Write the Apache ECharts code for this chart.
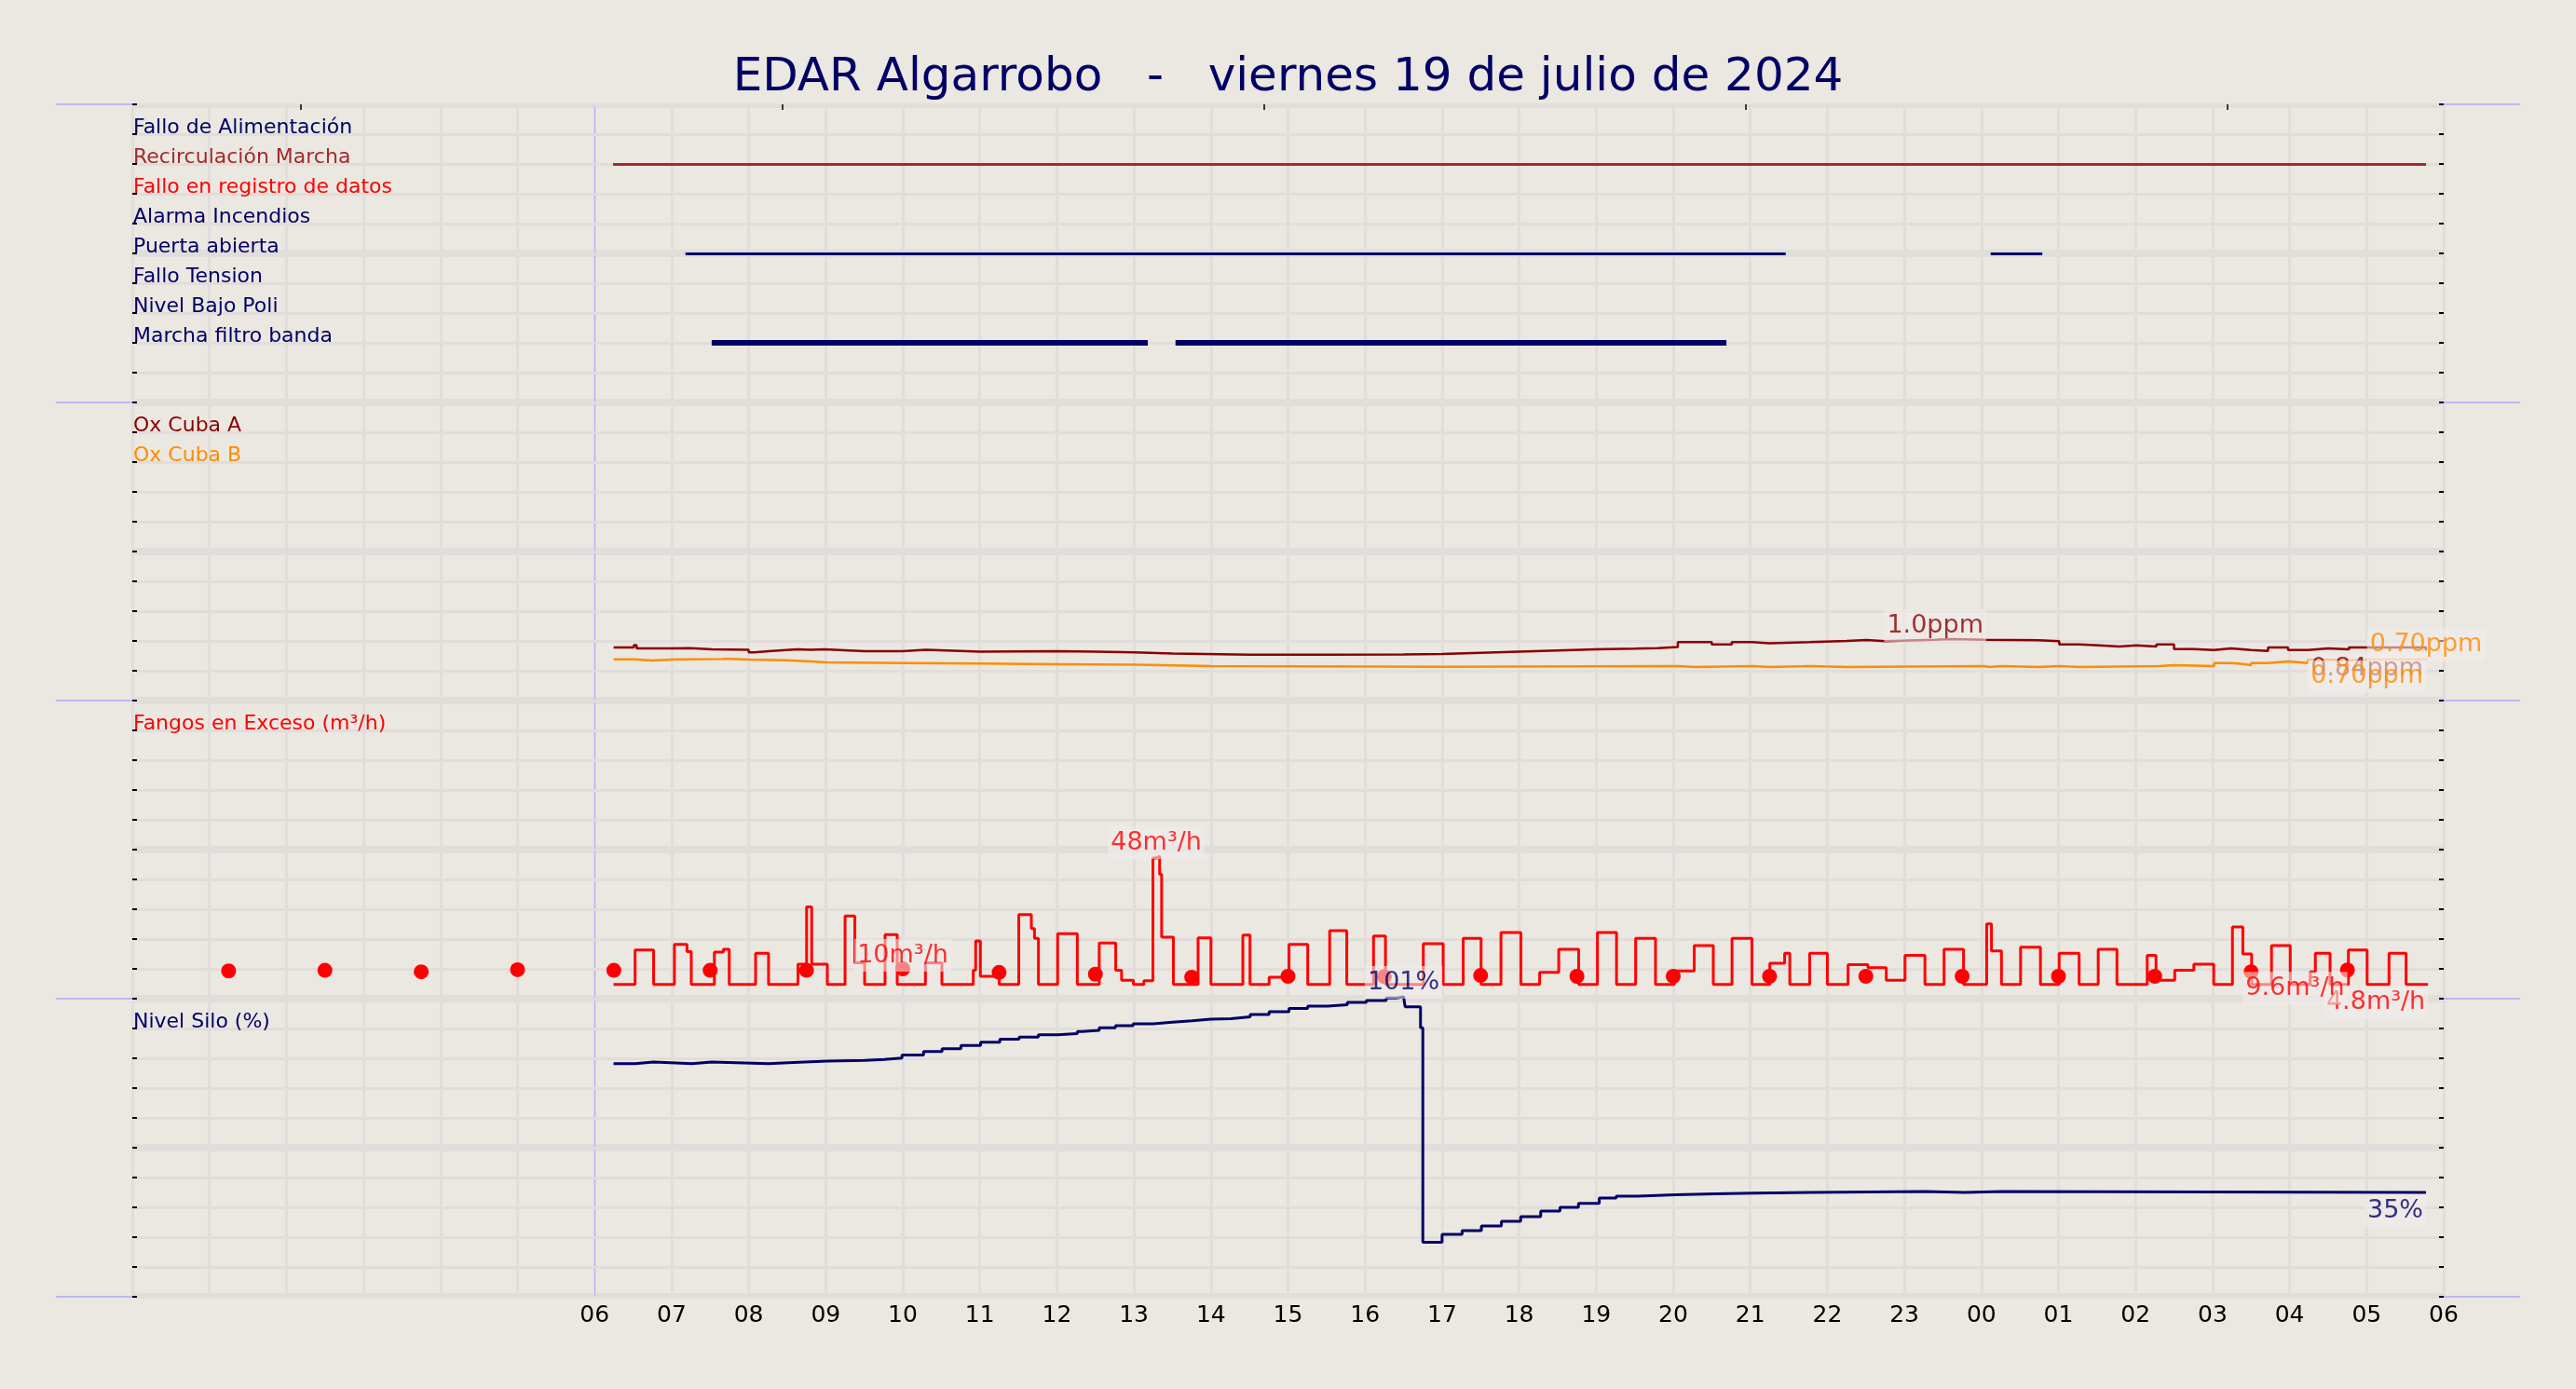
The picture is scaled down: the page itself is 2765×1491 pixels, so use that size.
<!DOCTYPE html>
<html><head><meta charset="utf-8">
<script src="https://cdn.jsdelivr.net/npm/echarts@6/dist/echarts.min.js"></script>
<style>html,body{margin:0;padding:0;background:#ebe7e1;} #c{width:2765px;height:1491px;}</style>
</head><body><div id="c"></div>
<script>
// ---------------- DATA ----------------
const hourLabels = ['','','','','','','06','07','08','09','10','11','12','13','14','15','16','17','18','19','20','21','22','23','00','01','02','03','04','05','06'];
const topTickHours = [2.19, 8.44, 14.69, 20.94, 27.19];

const eventNames  = ['Fallo de Alimentación','Recirculación Marcha','Fallo en registro de datos','Alarma Incendios','Puerta abierta','Fallo Tension','Nivel Bajo Poli','Marcha filtro banda'];
const eventRows   = [9, 8, 7, 6, 5, 4, 3, 2];
const eventColors = ['#000066','#a52a2a','#ff0000','#000066','#000066','#000066','#000066','#000066'];

const recircSegs = [[6.24, 29.77]];
const puertaSegs = [[7.18, 21.46], [24.12, 24.79]];
const filtroSegs = [[7.52, 13.18], [13.54, 20.69]];

const oxNames = ['Ox Cuba A', 'Ox Cuba B'];
const oxRows  = [4.5, 4.0];
const oxA = [[6.247,0.89],[6.51,0.93],[6.545,0.875],[7.0,0.88],[7.24,0.86],[7.52,0.85],[8.0,0.81],[8.07,0.83],[8.26,0.86],[8.63,0.85],[8.80,0.86],[8.98,0.83],
  [9.5,0.83],[10.0,0.85],[10.3,0.82],[11.0,0.83],[12.0,0.82],[12.5,0.81],[13.0,0.79],[13.5,0.77],[14.5,0.77],[15.5,0.775],[16.5,0.78],[17.0,0.80],[17.5,0.82],
  [18.0,0.84],[18.5,0.86],[19.0,0.87],[19.5,0.88],[19.8,0.90],
  [20.06,0.98],[20.50,0.94],[20.76,0.98],[21.02,0.96],[21.25,0.98],[21.77,1.0],[22.25,1.016],[22.51,0.995],[22.75,1.02],[23.40,1.03],[23.6,1.02],[24.04,1.01],
  [24.74,0.995],[25.01,0.943],[25.27,0.927],[25.53,0.906],[25.79,0.927],[26.01,0.906],[26.27,0.943],[26.50,0.865],[26.75,0.849],[27.02,0.875],[27.24,0.849],
  [27.50,0.833],[27.72,0.891],[27.98,0.849],[28.24,0.875],[28.50,0.859],[28.77,0.891],[29.03,0.89],[29.77,0.84]];
const oxB = [[6.247,0.693],[6.51,0.672],[6.753,0.688],[7.0,0.698],[7.66,0.70],[7.76,0.688],[8.0,0.677],[8.49,0.656],[8.80,0.641],[9.01,0.63],
  [10.0,0.62],[11.0,0.61],[12.0,0.60],[13.0,0.58],[14.0,0.57],[16.0,0.565],[17.0,0.57],[18.0,0.575],[19.0,0.58],
  [20.06,0.5625],[20.29,0.578],[21.02,0.5625],[21.25,0.578],[21.77,0.5625],[22.25,0.578],[24.04,0.5625],[24.11,0.578],[24.26,0.5625],[24.74,0.578],
  [25.01,0.5625],[25.27,0.578],[26.31,0.594],[26.50,0.578],[27.02,0.63],[27.24,0.615],[27.39,0.594],[27.50,0.63],[27.72,0.656],[27.98,0.63],
  [28.24,0.682],[28.50,0.672],[28.77,0.682],[29.03,0.69],[29.77,0.704]];

const fangosName = 'Fangos en Exceso (m³/h)';
const fangos = [[6.246,4.8],[6.526,16.3],[6.766,4.8],[7.036,18.2],[7.199,15.8],[7.255,4.8],[7.555,15.6],[7.672,16.6],[7.748,4.8],[8.090,15.2],[8.258,4.8],
  [8.640,11.6],[8.752,30.8],[8.818,11.6],[9.021,4.8],[9.251,27.7],[9.378,12.0],[9.505,4.8],[9.770,21.5],[9.928,4.8],[10.294,12.0],[10.508,4.8],
  [10.915,9.5],[10.946,19.4],[11.007,7.5],[11.251,4.8],[11.506,28.2],[11.669,23.5],[11.710,20.2],[11.761,4.8],[12.010,21.8],[12.265,4.8],
  [12.550,18.7],[12.764,9.5],[12.840,6.2],[12.993,4.8],[13.130,6.0],[13.247,47.2],[13.29,47.8],[13.334,41.7],[13.360,20.6],[13.512,4.8],[13.833,20.4],
  [14.0,4.8],[14.414,21.3],[14.507,4.8],[14.755,7.2],[15.013,18.2],[15.256,4.8],[15.541,22.8],[15.763,4.8],[16.110,21.0],[16.265,4.8],
  [16.756,18.4],[17.014,4.8],[17.273,20.2],[17.506,4.8],[17.764,22.2],[18.023,4.8],[18.266,8.8],[18.514,16.6],[18.773,4.8],[19.016,22.2],
  [19.264,4.8],[19.512,20.2],[19.770,4.8],[20.013,9.3],[20.272,17.8],[20.520,4.8],[20.763,20.2],[21.022,4.8],[21.254,11.9],[21.446,15.2],
  [21.513,4.8],[21.771,15.2],[22.0,4.8],[22.269,11.4],[22.527,10.4],[22.765,6.2],[23.008,14.5],[23.267,4.8],[23.515,16.6],[23.768,4.8],
  [24.068,25.1],[24.130,16.0],[24.260,4.8],[24.508,17.3],[24.766,4.8],[25.009,15.2],[25.268,4.8],[25.516,16.6],[25.759,4.8],[26.152,14.5],
  [26.266,6.2],[26.509,9.5],[26.757,11.6],[27.015,4.8],[27.258,24.1],[27.393,15.0],[27.507,4.8],[27.765,17.8],[28.008,4.8],[28.267,9.0],
  [28.334,15.2],[28.525,4.8],[28.763,16.3],[29.006,4.8],[29.290,15.2],[29.512,4.8],[29.797,4.8]];
const fangosDots = [[1.25,9.3],[2.5,9.5],[3.75,9.0],[5.0,9.7],[6.25,9.5],[7.5,9.5],[8.75,9.5],[10.0,10.0],[11.25,8.8],[12.5,8.2],[13.75,7.2],
  [15.0,7.5],[16.25,7.4],[17.5,7.8],[18.75,7.5],[20.0,7.5],[21.25,7.5],[22.5,7.5],[23.75,7.5],[25.0,7.5],[26.25,7.5],[27.5,9.0],[28.75,9.6]];

const siloName = 'Nivel Silo (%)';
const silo = [[6.246,78.2],[6.526,78.75],[6.766,78.2],[7.265,78.75],[7.52,78.2],[8.258,78.5],[8.513,79.1],[9.02,79.3],[9.505,79.6],[9.76,80.1],
  [9.99,81.1],[10.27,82.3],[10.51,83.2],[10.755,84.3],[11.01,85.4],[11.26,86.4],[11.51,87.1],[11.76,87.9],[12.01,88.3],[12.265,89.0],[12.33,89.4],
  [12.55,90.2],[12.76,90.9],[12.99,91.6],[13.25,92.1],[13.50,92.6],[13.755,93.1],[14.0,93.3],[14.26,93.9],[14.51,94.7],[14.755,95.6],[15.013,96.7],
  [15.256,97.5],[15.515,98.0],[15.77,98.75],[16.017,99.4],[16.275,100.2],[16.40,100.6],[16.50,100.9],[16.52,97.3],[16.72,90.2],[16.75,18.3],[17.0,20.9],
  [17.26,22.2],[17.51,23.75],[17.77,25.3],[18.02,26.9],[18.28,28.75],[18.53,30.0],[18.77,31.35],[19.04,33.1],[19.26,33.75],[19.54,34.2],
  [20.03,34.5],[20.54,34.8],[21.04,35.0],[21.78,35.3],[23.27,35.0],[23.78,35.3],[24.27,35.0],[29.77,35.0]];

// ---------------- STYLE ----------------
const FONT = 'DejaVu Sans';
const BG = '#ebe7e1', GRIDC = '#e1dddb', SEP = '#aaaaff', NAVY = '#000066';
const BOX = 'rgba(241,238,235,0.7)';
const L = 142, R = 142, TOPS = [112, 432, 752, 1072], H = 320;
const ranges = [[0,10,1],[0,5,0.5],[0,100,10],[0,100,10]];

const fmtVal = v => v >= 10 ? String(Math.round(v)) : v.toPrecision(2);
function annot(pairs, unit, color) {
  let mi = 0; pairs.forEach((p, i) => { if (p[1] > pairs[mi][1]) mi = i; });
  const last = pairs[pairs.length - 1];
  return [
    {value: pairs[mi], label: {formatter: fmtVal(pairs[mi][1]) + unit, position: 'top', distance: -3, color}},
    {value: last, label: {formatter: fmtVal(last[1]) + unit, position: 'bottom', align: 'right', distance: 2, color}}
  ];
}
const annotLabel = {show: true, fontSize: 27, lineHeight: 31, padding: [2, 3], backgroundColor: BOX, fontFamily: FONT};

const panelLabels = [
  {vals: eventRows, names: eventNames, colors: eventColors},
  {vals: oxRows, names: oxNames, colors: ['#8b0000', '#ff8c00']},
  {vals: [90], names: [fangosName], colors: ['#ff0000']},
  {vals: [90], names: [siloName], colors: [NAVY]}
];
function findIdx(p, v) { return p.vals.findIndex(x => Math.abs(x - Number(v)) < 1e-6); }

const tickStyle = {show: true, inside: true, length: 5, lineStyle: {color: '#000', width: 2}};
const grids = [], xAxes = [], yAxes = [], series = [];
for (let i = 0; i < 4; i++) {
  grids.push({left: L, right: R, top: TOPS[i], height: H});
  xAxes.push({type: 'value', gridIndex: i, position: 'bottom', min: 0, max: 30, interval: 1,
    axisLine: {show: false, onZero: false}, axisTick: {show: false},
    axisLabel: {show: i === 3, formatter: v => hourLabels[Math.round(v)] || '', fontSize: 25, color: '#000', fontFamily: FONT, margin: 8},
    splitLine: {show: true, lineStyle: {color: GRIDC, width: 3}}});
  const [mn, mx, iv] = ranges[i];
  const p = panelLabels[i];
  // left axis: ticks + in-plot row names (negative margin puts the text inside)
  yAxes.push({type: 'value', gridIndex: i, position: 'left', min: mn, max: mx, interval: iv, z: 2,
    axisLine: {show: false, onZero: false},
    axisTick: tickStyle,
    axisLabel: {show: true, inside: false, margin: -1, align: 'left', verticalAlign: 'bottom', lineHeight: 14,
      fontSize: 22, fontFamily: FONT,
      formatter: v => { const k = findIdx(p, v); return k >= 0 ? p.names[k] : ''; },
      color: v => { const k = findIdx(p, v); return k >= 0 ? p.colors[k] : '#000'; }},
    splitLine: {show: true, lineStyle: {color: GRIDC, width: 3}}});
  yAxes.push({type: 'value', gridIndex: i, position: 'right', min: mn, max: mx, interval: iv, z: 2,
    axisLine: {show: false, onZero: false},
    axisTick: tickStyle,
    axisLabel: {show: false}, splitLine: {show: false}});
  const band = (mx - mn) / 80;
  series.push({type: 'line', xAxisIndex: i, yAxisIndex: 2 * i, data: [[0, mn]], silent: true, z: 1,
    symbol: 'none', lineStyle: {opacity: 0},
    markLine: {silent: true, z: 1, symbol: ['none', 'none'], label: {show: false}, animation: false,
      data: [{yAxis: (mn + mx) / 2, lineStyle: {color: GRIDC, width: 8, type: 'solid'}},
             {xAxis: 6, lineStyle: {color: '#b3b3ff', width: 1.2, type: 'solid'}}]},
    markArea: {silent: true, z: 1, label: {show: false}, itemStyle: {color: GRIDC, opacity: 1},
      data: [[{yAxis: mx - band}, {yAxis: mx}], [{yAxis: mn}, {yAxis: mn + band}]]}});
}
xAxes.push({type: 'value', gridIndex: 0, position: 'top', min: 0, max: 30, z: 3,
  axisLine: {show: false, onZero: false}, axisLabel: {show: false}, splitLine: {show: false},
  axisTick: {show: true, inside: true, length: 6, customValues: topTickHours, lineStyle: {color: '#000', width: 1.5}}});

// Panel 1: events
function segSeries(segs, row, color, width) {
  return {type: 'lines', coordinateSystem: 'cartesian2d', xAxisIndex: 0, yAxisIndex: 0, polyline: false, silent: true, z: 3,
    lineStyle: {color, width, opacity: 1, cap: 'butt'},
    data: segs.map(s => ({coords: [[s[0], row], [s[1], row]]}))};
}
series.push(segSeries(recircSegs, eventRows[1], eventColors[1], 3));
series.push(segSeries(puertaSegs, eventRows[4], eventColors[4], 3));
series.push(segSeries(filtroSegs, eventRows[7], eventColors[7], 6));

// Panel 2: oxygen
series.push({type: 'line', xAxisIndex: 1, yAxisIndex: 2, data: oxA, step: 'end', showSymbol: false, symbol: 'none', z: 3,
  lineStyle: {color: '#8b0000', width: 2.5}});
series.push({type: 'line', xAxisIndex: 1, yAxisIndex: 2, data: oxB, step: 'end', showSymbol: false, symbol: 'none', z: 3,
  lineStyle: {color: '#ff8c00', width: 2.5}});
series.push({type: 'scatter', xAxisIndex: 1, yAxisIndex: 2, symbolSize: 0, z: 20, silent: true, clip: false, label: annotLabel,
  data: annot(oxA, 'ppm', '#8b0000').concat(annot(oxB, 'ppm', '#ff8c00'))});

// Panel 3: fangos
series.push({type: 'line', xAxisIndex: 2, yAxisIndex: 4, data: fangos, step: 'end', showSymbol: false, symbol: 'none', z: 3,
  lineStyle: {color: '#ff0000', width: 3}});
series.push({type: 'scatter', xAxisIndex: 2, yAxisIndex: 4, data: fangosDots, symbolSize: 16, z: 4, silent: true,
  itemStyle: {color: '#ff0000', opacity: 1}});
series.push({type: 'scatter', xAxisIndex: 2, yAxisIndex: 4, symbolSize: 0, z: 20, silent: true, clip: false, label: annotLabel,
  data: annot(fangos, 'm³/h', '#ff0000').concat(annot(fangosDots, 'm³/h', '#ff0000'))});

// Panel 4: silo
series.push({type: 'line', xAxisIndex: 3, yAxisIndex: 6, data: silo, step: 'end', showSymbol: false, symbol: 'none', z: 3, clip: false,
  lineStyle: {color: NAVY, width: 3}});
series.push({type: 'scatter', xAxisIndex: 3, yAxisIndex: 6, symbolSize: 0, z: 20, silent: true, clip: false, label: annotLabel,
  data: annot(silo, '%', NAVY)});

const sepYs = TOPS.concat([TOPS[3] + H]);
const graphic = sepYs.map(y => ({type: 'line', z: 1, silent: true,
  shape: {x1: 60, y1: y, x2: 2705, y2: y}, style: {stroke: SEP, lineWidth: 1.5}}));

const chart = echarts.init(document.getElementById('c'), null, {renderer: 'canvas'});
chart.setOption({
  backgroundColor: BG,
  animation: false,
  title: {text: 'EDAR Algarrobo   -   viernes 19 de julio de 2024', left: 'center', top: 54,
    textStyle: {fontSize: 50, fontWeight: 'normal', color: NAVY, fontFamily: FONT}},
  grid: grids, xAxis: xAxes, yAxis: yAxes, series, graphic
});
</script></body></html>
